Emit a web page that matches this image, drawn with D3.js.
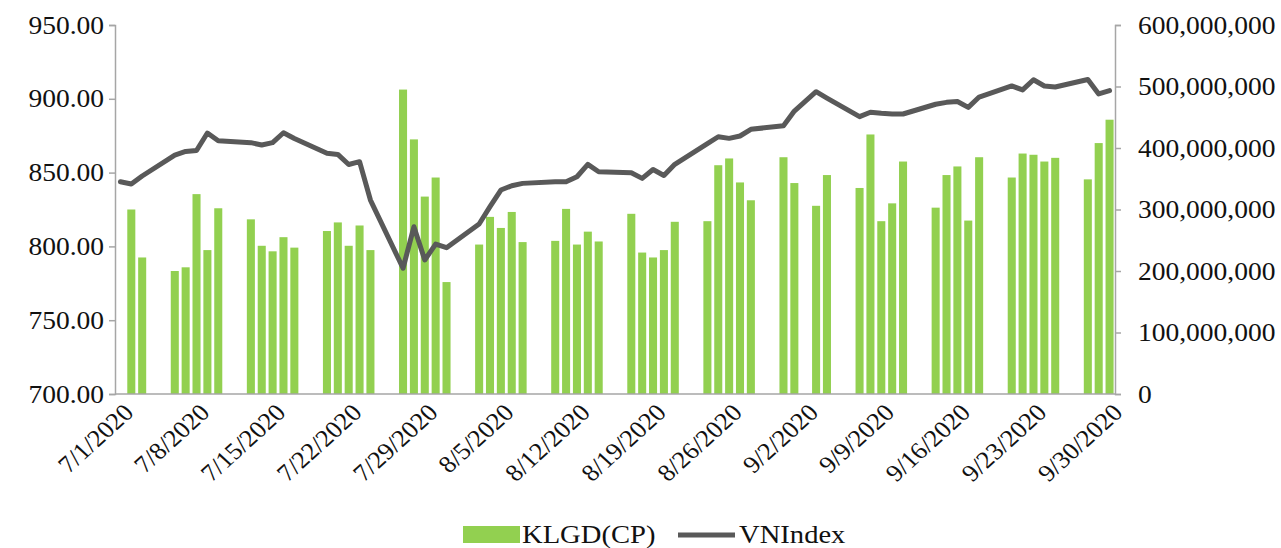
<!DOCTYPE html>
<html>
<head>
<meta charset="utf-8">
<script src="https://cdn.jsdelivr.net/npm/d3@7"></script>
<style>
  html, body { margin: 0; padding: 0; background: #fff; }
  svg text { font-family: "Liberation Serif", "Times New Roman", serif; fill: #111; }
</style>
</head>
<body>
<svg id="chart" width="1281" height="548"></svg>
<script>
// Trading sessions, July - September 2020
const tradingDays = [
  "2020-07-01","2020-07-02","2020-07-03",
  "2020-07-06","2020-07-07","2020-07-08","2020-07-09","2020-07-10",
  "2020-07-13","2020-07-14","2020-07-15","2020-07-16","2020-07-17",
  "2020-07-20","2020-07-21","2020-07-22","2020-07-23","2020-07-24",
  "2020-07-27","2020-07-28","2020-07-29","2020-07-30","2020-07-31",
  "2020-08-03","2020-08-04","2020-08-05","2020-08-06","2020-08-07",
  "2020-08-10","2020-08-11","2020-08-12","2020-08-13","2020-08-14",
  "2020-08-17","2020-08-18","2020-08-19","2020-08-20","2020-08-21",
  "2020-08-24","2020-08-25","2020-08-26","2020-08-27","2020-08-28",
  "2020-08-31","2020-09-01","2020-09-03","2020-09-04",
  "2020-09-07","2020-09-08","2020-09-09","2020-09-10","2020-09-11",
  "2020-09-14","2020-09-15","2020-09-16","2020-09-17","2020-09-18",
  "2020-09-21","2020-09-22","2020-09-23","2020-09-24","2020-09-25",
  "2020-09-28","2020-09-29","2020-09-30"
];

// Matched volume (shares), KLGD(CP)
const volume = [
  null, 300e6, 222e6,
  200e6, 206e6, 325e6, 234e6, 302e6,
  284e6, 241e6, 232e6, 255e6, 238e6,
  265e6, 279e6, 241e6, 274e6, 234e6,
  495e6, 414e6, 321e6, 352e6, 182e6,
  243e6, 288e6, 270e6, 296e6, 247e6,
  249e6, 301e6, 243e6, 264e6, 248e6,
  293e6, 230e6, 222e6, 234e6, 280e6,
  281e6, 372e6, 383e6, 344e6, 315e6,
  385e6, 343e6, 306e6, 356e6,
  335e6, 422e6, 281e6, 310e6, 378e6,
  303e6, 356e6, 370e6, 282e6, 385e6,
  352e6, 391e6, 389e6, 378e6, 384e6,
  349e6, 408e6, 446e6
];

// VN-Index close
const vnindex = [
  843.8, 842.3, 847.7,
  861.9, 864.3, 865.0, 876.8, 871.6,
  870.3, 868.7, 870.3, 877.0, 873.1,
  863.1, 862.3, 855.5, 857.4, 831.4,
  785.2, 813.3, 790.8, 801.6, 799.1,
  815.2, 826.9, 838.2, 841.1, 842.7,
  843.8, 843.8, 847.2, 855.6, 850.6,
  849.9, 846.1, 852.1, 848.0, 855.6,
  869.6, 874.3, 873.2, 874.8, 879.3,
  881.8, 891.7, 904.8, 900.5,
  887.9, 890.9, 890.2, 889.7, 889.7,
  896.3, 897.6, 898.2, 894.2, 901.2,
  908.7, 906.0, 912.9, 908.7, 908.0,
  913.1, 903.3, 905.5
];

const xTickLabels = [
  "7/1/2020","7/8/2020","7/15/2020","7/22/2020","7/29/2020","8/5/2020","8/12/2020",
  "8/19/2020","8/26/2020","9/2/2020","9/9/2020","9/16/2020","9/23/2020","9/30/2020"
];
const leftTicks = [700, 750, 800, 850, 900, 950];
const rightTicks = [0, 100e6, 200e6, 300e6, 400e6, 500e6, 600e6];

const seriesNames = ["KLGD(CP)", "VNIndex"];

const parse = d3.timeParse("%Y-%m-%d");
const fmtKey = d3.timeFormat("%Y-%m-%d");

const rows = tradingDays.map((d, i) => ({ date: parse(d), key: d, vol: volume[i], idx: vnindex[i] }));

// every calendar day gets a slot (date axis)
const start = parse("2020-07-01"), end = parse("2020-09-30");
const allDays = d3.timeDay.range(start, d3.timeDay.offset(end, 1)).map(fmtKey);

const W = 1281, H = 548;
const plotL = 115, plotR = 1115, plotT = 25, plotB = 394;
const stretch = 1.1;   // text is set slightly wide

const x = d3.scaleBand().domain(allDays).range([plotL, plotR]).paddingInner(0.26).paddingOuter(0.13);
const yL = d3.scaleLinear().domain([700, 950]).range([plotB, plotT]);
const yR = d3.scaleLinear().domain([0, 600e6]).range([plotB, plotT]);
const cx = k => x(k) + x.bandwidth() / 2;

const svg = d3.select("#chart");
svg.append("rect").attr("width", W).attr("height", H).attr("fill", "#fff");

const green = "#92d050", lineCol = "#595959", axisCol = "#a6a6a6";

// volume bars
svg.append("g").selectAll("rect")
  .data(rows.filter(r => r.vol != null))
  .join("rect")
  .attr("x", r => x(r.key))
  .attr("width", x.bandwidth())
  .attr("y", r => yR(r.vol))
  .attr("height", r => yR(0) - yR(r.vol))
  .attr("fill", green);

// index line
const line = d3.line().x(r => cx(r.key)).y(r => yL(r.idx));
svg.append("path")
  .datum(rows)
  .attr("d", line)
  .attr("fill", "none")
  .attr("stroke", lineCol)
  .attr("stroke-width", 5)
  .attr("stroke-linejoin", "round")
  .attr("stroke-linecap", "round");

// axes
const leftAxis = d3.axisLeft(yL).tickValues(leftTicks).tickFormat(d3.format(".2f")).tickSize(6).tickPadding(5);
const rightAxis = d3.axisRight(yR).tickValues(rightTicks).tickFormat(d3.format(",")).tickSize(6).tickPadding(17);

const gL = svg.append("g").attr("transform", `translate(${plotL},0)`).call(leftAxis);
const gR = svg.append("g").attr("transform", `translate(${plotR},0)`).call(rightAxis);
[gL, gR].forEach(g => {
  g.select(".domain").attr("stroke", axisCol).attr("stroke-width", 1.5);
  g.selectAll(".tick line").attr("stroke", axisCol).attr("stroke-width", 1.5);
  g.selectAll(".tick text")
    .attr("font-size", 25).attr("fill", "#111")
    .attr("font-family", "'Liberation Serif', 'Times New Roman', serif")
    .each(function () {
      const t = d3.select(this);
      const tx = +t.attr("x");
      t.attr("x", tx / stretch).attr("transform", `scale(${stretch},1)`);
    });
});

// bottom axis line
svg.append("line")
  .attr("x1", plotL).attr("x2", plotR).attr("y1", plotB).attr("y2", plotB)
  .attr("stroke", axisCol).attr("stroke-width", 1.5);

// rotated date labels
const gX = svg.append("g");
xTickLabels.forEach(lbl => {
  const [m, d, y] = lbl.split("/").map(Number);
  const key = fmtKey(new Date(y, m - 1, d));
  const px = cx(key);
  gX.append("text")
    .attr("transform", `translate(${px + 8},${plotB + 14}) scale(${stretch},1) rotate(-45)`)
    .attr("text-anchor", "end")
    .attr("dy", "0.35em")
    .attr("font-size", 24)
    .text(lbl);
});

// legend
const lg = svg.append("g");
lg.append("rect").attr("x", 463).attr("y", 526).attr("width", 57).attr("height", 17).attr("fill", green);
lg.append("text").attr("transform", `translate(522,543) scale(${stretch},1)`).attr("font-size", 26).text(seriesNames[0]);
lg.append("line").attr("x1", 678).attr("x2", 735).attr("y1", 535).attr("y2", 535)
  .attr("stroke", lineCol).attr("stroke-width", 5);
lg.append("text").attr("transform", `translate(739,543) scale(${stretch},1)`).attr("font-size", 26).text(seriesNames[1]);
</script>
</body>
</html>
